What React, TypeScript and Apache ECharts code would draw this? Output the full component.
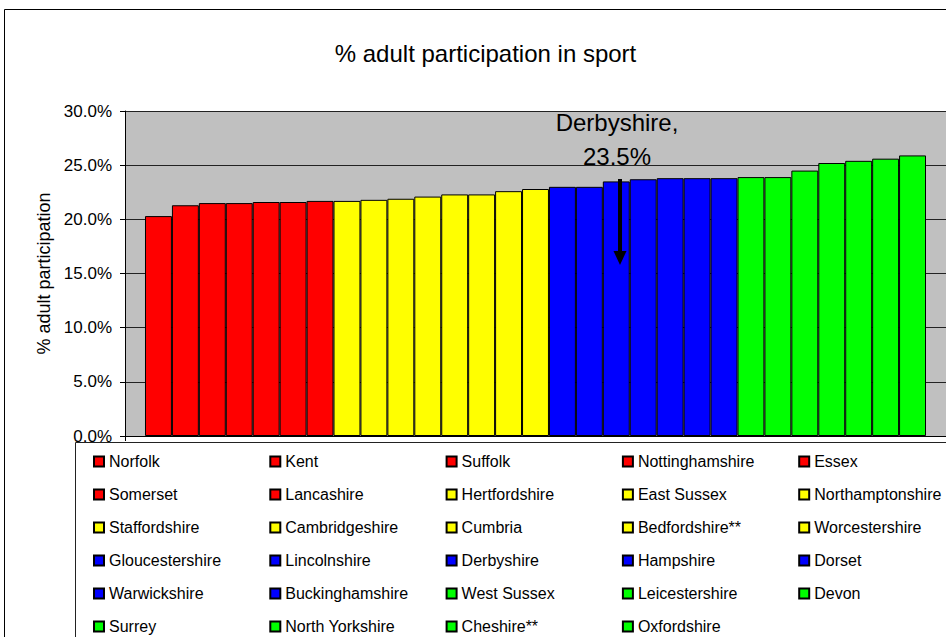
import React, { useEffect, useRef } from "react";
import * as echarts from "echarts";

const chartTitle = "% adult participation in sport";
const yAxisName = "% adult participation";
const counties = [
  "Norfolk", "Kent", "Suffolk", "Nottinghamshire", "Essex",
  "Somerset", "Lancashire", "Hertfordshire", "East Sussex", "Northamptonshire",
  "Staffordshire", "Cambridgeshire", "Cumbria", "Bedfordshire**", "Worcestershire",
  "Gloucestershire", "Lincolnshire", "Derbyshire", "Hampshire", "Dorset",
  "Warwickshire", "Buckinghamshire", "West Sussex", "Leicestershire", "Devon",
  "Surrey", "North Yorkshire", "Cheshire**", "Oxfordshire",
];
const participation = [
  20.3, 21.3, 21.5, 21.5, 21.6,
  21.6, 21.7, 21.7, 21.8, 21.9,
  22.1, 22.3, 22.3, 22.6, 22.8,
  23.0, 23.0, 23.5, 23.7, 23.8,
  23.8, 23.8, 23.9, 23.9, 24.5,
  25.2, 25.4, 25.6, 25.9,
];
// quartile band of each county (0 = lowest)
const band = [
  0, 0, 0, 0, 0, 0, 0,
  1, 1, 1, 1, 1, 1, 1, 1,
  2, 2, 2, 2, 2, 2, 2,
  3, 3, 3, 3, 3, 3, 3,
];
const highlighted = "Derbyshire";
const yMin = 0;
const yMax = 30;
const yStep = 5;

const palette = ["#FF0000", "#FFFF00", "#0000FF", "#00FF00"];
const FONT = '"Liberation Sans", Arial, Helvetica, sans-serif';

export default function App() {
  const ref = useRef<HTMLDivElement>(null);

  useEffect(() => {
    if (!ref.current) return;
    const chart = echarts.init(ref.current, undefined, { renderer: "svg" });
    const hiIdx = counties.indexOf(highlighted);
    const series = counties.map((name, i) => ({
      type: "bar",
      name,
      data: [participation[i]],
      barGap: "0%",
      barCategoryGap: "4.87%",
      itemStyle: { color: palette[band[i]], borderColor: "#000", borderWidth: 1 },
    }));

    chart.setOption({
      animation: false,
      textStyle: { fontFamily: FONT },
      grid: {
        left: 125,
        right: -1,
        top: 111,
        height: 325,
        show: true,
        backgroundColor: "#C0C0C0",
        borderWidth: 0,
      },
      xAxis: {
        type: "category",
        data: [""],
        axisLine: { show: true, lineStyle: { color: "#000", width: 1 } },
        axisTick: { show: true, length: 5, lineStyle: { color: "#000" } },
        axisLabel: { show: false },
      },
      yAxis: {
        type: "value",
        min: yMin,
        max: yMax,
        interval: yStep,
        name: yAxisName,
        nameLocation: "middle",
        nameRotate: 90,
        nameGap: 71,
        nameTextStyle: { fontSize: 18, color: "#000", fontFamily: FONT },
        axisLine: { show: true, lineStyle: { color: "#000", width: 1 } },
        axisTick: { show: true, inside: false, length: 5, lineStyle: { color: "#000" } },
        axisLabel: {
          margin: 13,
          fontSize: 17,
          color: "#000",
          fontFamily: FONT,
          formatter: (v: number) => v.toFixed(1) + "%",
        },
        splitLine: { show: true, lineStyle: { color: "#222", width: 1 } },
      },
      legend: {
        data: counties,
        left: 93,
        top: 445,
        width: 900,
        padding: 0,
        itemGap: 0,
        itemWidth: 10,
        itemHeight: 10,
        icon: "rect",
        selectedMode: false,
        textStyle: {
          fontSize: 16,
          color: "#000",
          fontFamily: FONT,
          width: 160.3,
          lineHeight: 33,
        },
      },
      graphic: [
        {
          type: "rect",
          z: -10,
          silent: true,
          shape: { x: 4.5, y: 9.5, width: 2000, height: 2000 },
          style: { fill: "#fff", stroke: "#000", lineWidth: 1 },
        },
        {
          type: "rect",
          z: -5,
          silent: true,
          shape: { x: 75.5, y: 442.5, width: 2000, height: 500 },
          style: { fill: "#fff", stroke: "#222", lineWidth: 1 },
        },
        {
          type: "text",
          x: 485.5,
          y: 53,
          style: {
            text: chartTitle,
            fontSize: 24,
            fontFamily: FONT,
            fill: "#000",
            align: "center",
            verticalAlign: "middle",
          },
        },
        {
          type: "text",
          x: 617,
          y: 139,
          z: 10,
          style: {
            text: highlighted + ",\n" + participation[hiIdx].toFixed(1) + "%",
            fontSize: 24,
            lineHeight: 34,
            fontFamily: FONT,
            fill: "#000",
            align: "center",
            verticalAlign: "middle",
          },
        },
        {
          type: "line",
          z: 10,
          shape: { x1: 620, y1: 179, x2: 620, y2: 254 },
          style: { stroke: "#000", lineWidth: 4 },
        },
        {
          type: "polygon",
          z: 10,
          shape: { points: [[613.5, 251], [626.5, 251], [620, 265]] },
          style: { fill: "#000" },
        },
      ],
      series,
    });

    return () => chart.dispose();
  }, []);

  return (
    <div
      ref={ref}
      style={{ position: "fixed", left: 0, top: 0, width: 946, height: 637, background: "#fff" }}
    />
  );
}
